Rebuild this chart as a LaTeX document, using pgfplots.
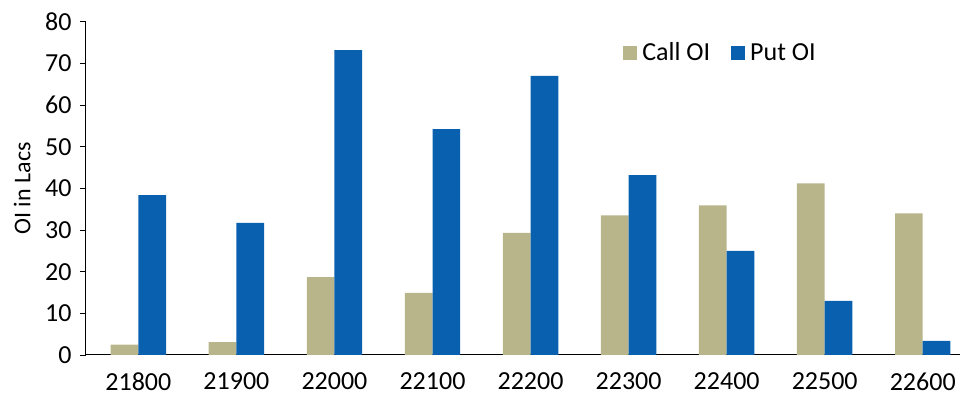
\documentclass[border=0pt]{standalone}
\usepackage{pgfplots}
\pgfplotsset{compat=1.18}
\usepackage{fontspec}
\setmainfont{Carlito}
\definecolor{callc}{RGB}{184,181,139}
\definecolor{putc}{RGB}{8,96,175}
\pgfplotstableread{
x call put
0 2.5 38.4
1 3.1 31.7
2 18.7 73.2
3 14.9 54.2
4 29.3 67.0
5 33.5 43.2
6 35.9 25.0
7 41.2 13.0
8 34.0 3.4
}\datatable
\begin{document}
\begin{tikzpicture}
\begin{axis}[
  scale only axis,
  width=874pt, height=333.3pt,
  xmin=-0.534, xmax=8.38,
  ymin=0, ymax=80,
  ytick={0,10,...,80},
  xtick=data,
  xticklabels={21800,21900,22000,22100,22200,22300,22400,22500,22600},
  axis x line=bottom, axis y line=left,
  axis line style={-, black, line width=1pt},
  xtick style={draw=none},
  ytick style={black, line width=0.8pt},
  tick align=outside,
  major tick length=6pt,
  ybar=0pt, bar width=27.7pt,
  tick label style={font=\fontsize{26}{30}\selectfont},
  /pgf/number format/assume math mode=true,
  yticklabel style={xshift=-5pt},
  xticklabel style={yshift=-8pt},
  ylabel={OI in Lacs},
  ylabel style={font=\fontsize{24}{28}\selectfont, at={(axis description cs:-0.073,0.5)}, anchor=center},
  legend style={draw=none, fill=none, inner sep=0pt, at={(axis cs:4.944,72.6)}, anchor=west,
    font=\fontsize{26}{30}\selectfont, column sep=0pt, nodes={inner xsep=5pt},
    /tikz/every even column/.append style={column sep=16pt}},
  legend columns=2,
  legend image code/.code={\fill[#1] (0pt,-7pt) rectangle (14pt,7pt);},
  clip=false,
]
\addplot[fill=callc, draw=none] table[x=x, y=call] {\datatable};
\addplot[fill=putc, draw=none] table[x=x, y=put] {\datatable};
\legend{Call OI, Put OI}
\coordinate (ll) at (rel axis cs:0,0);
\coordinate (ur) at (rel axis cs:1,1);
\end{axis}
\pgfresetboundingbox
\path[use as bounding box] ([shift={(-86pt,-42pt)}]ll) rectangle ([shift={(0pt,21.7pt)}]ur);
\end{tikzpicture}
\end{document}
